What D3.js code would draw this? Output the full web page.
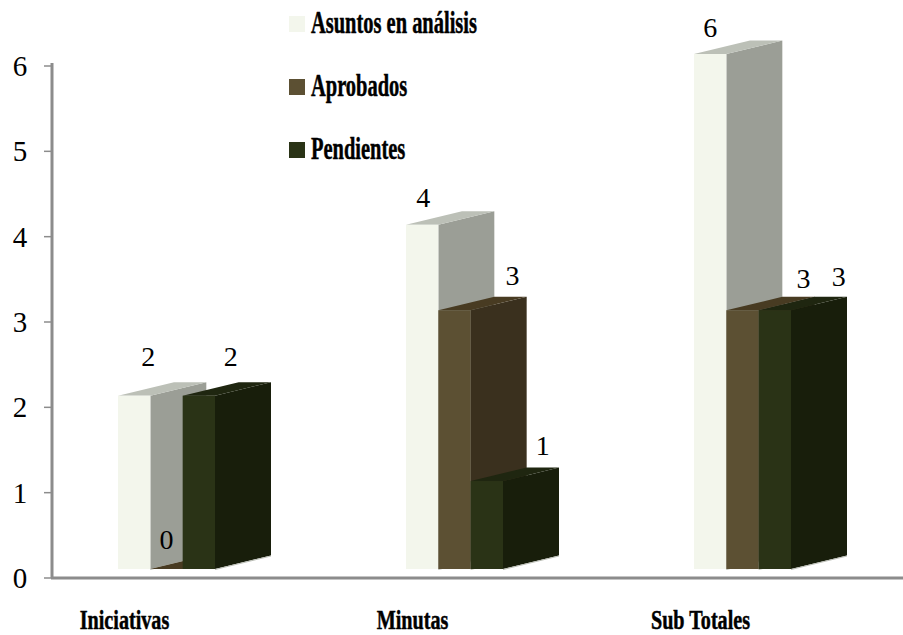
<!DOCTYPE html>
<html>
<head>
<meta charset="utf-8">
<script src="https://cdn.jsdelivr.net/npm/d3@7"></script>
<style>
  html, body { margin: 0; padding: 0; background: #fff; }
  svg { display: block; }
  text { font-family: "Liberation Serif", serif; fill: #000; }
</style>
</head>
<body>
<svg id="chart" width="903" height="635"></svg>
<script>
const categories = ["Iniciativas", "Minutas", "Sub Totales"];
const seriesNames = ["Asuntos en análisis", "Aprobados", "Pendientes"];
const asuntos = [2, 4, 6];
const aprobados = [0, 3, 3];
const pendientes = [2, 1, 3];
const seriesValues = [asuntos, aprobados, pendientes];
const yTicks = [0, 1, 2, 3, 4, 5, 6];

// Shades per series: front, side and top faces of each block
const faces = [
  { front: "#f3f6ec", side: "#9b9e96", top: "#bcc0b7" },
  { front: "#5c5033", side: "#3a301e", top: "#483b22" },
  { front: "#2a3316", side: "#181e0b", top: "#1f2610" }
];

// Value label nudges relative to each block's front face centre: [dx, baseline above top]
const labelNudge = [
  [[14, 30], [0, 20], [32, 30]],
  [[1, 17.5], [58, 25.7], [56, 26]],
  [[0, 17], [61, 22.7], [64, 24.7]]
];

const depthX = 56, depthY = -13.5;
const yBase = 569;
const svg = d3.select("#chart");

const yAxisScale = d3.scaleLinear().domain([0, 6]).range([578, 66]);
const yBlock = d3.scaleLinear().domain([0, 6]).range([566.5, 54]);
const xGroup = d3.scaleBand().domain(categories).range([22.5, 886.5]);
const xSeries = d3.scaleBand().domain(seriesNames).range([-48.5, 48.5]);

const pts = a => a.map(p => p.join(",")).join(" ");

// Blocks, painted left to right so later ones overlap earlier ones
categories.forEach((cat, c) => {
  const g = svg.append("g").attr("class", "group");
  seriesNames.forEach((name, s) => {
    const v = seriesValues[s][c];
    const x0 = xGroup(cat) + xGroup.bandwidth() / 2 + xSeries(name);
    const x1 = x0 + xSeries.bandwidth();
    const yt = v > 0 ? yBlock(v) : yBase;
    g.append("polygon").attr("fill", faces[s].side)
      .attr("points", pts([[x1, yt], [x1 + depthX, yt + depthY], [x1 + depthX, yBase + depthY], [x1, yBase]]));
    g.append("polygon").attr("fill", faces[s].top)
      .attr("points", pts([[x0, yt], [x0 + depthX, yt + depthY], [x1 + depthX, yt + depthY], [x1, yt]]));
    if (v > 0) {
      g.append("rect").attr("fill", faces[s].front)
        .attr("x", x0).attr("y", yt).attr("width", x1 - x0).attr("height", yBase - yt);
      // Pale rim along the block's far lower edge
      g.append("line").attr("stroke", "#b9bcb4").attr("stroke-width", 1)
        .attr("x1", x1).attr("y1", yBase + 0.5)
        .attr("x2", x1 + depthX).attr("y2", yBase + depthY + 0.5);
    }
  });
});

// Value labels sit above everything else
categories.forEach((cat, c) => {
  seriesNames.forEach((name, s) => {
    const v = seriesValues[s][c];
    const cx = xGroup(cat) + xGroup.bandwidth() / 2 + xSeries(name) + xSeries.bandwidth() / 2;
    const top = v > 0 ? yBlock(v) : yBase;
    svg.append("text")
      .attr("x", cx + labelNudge[c][s][0])
      .attr("y", top - labelNudge[c][s][1])
      .attr("text-anchor", "middle")
      .attr("font-size", 28)
      .text(v);
  });
});

// Value axis
const yAxis = svg.append("g");
yAxis.append("line").attr("x1", 52).attr("x2", 52)
  .attr("y1", yAxisScale(6) - 3).attr("y2", yAxisScale(0))
  .attr("stroke", "#8c8c8c").attr("stroke-width", 3);
yAxis.selectAll("line.tick").data(yTicks).join("line").attr("class", "tick")
  .attr("x1", 44).attr("x2", 52)
  .attr("y1", d => yAxisScale(d)).attr("y2", d => yAxisScale(d))
  .attr("stroke", "#8c8c8c").attr("stroke-width", 1.5);
yAxis.selectAll("text").data(yTicks).join("text")
  .attr("x", 20).attr("y", d => yAxisScale(d) + 10)
  .attr("text-anchor", "middle").attr("font-size", 29)
  .text(d => d);

// Category axis
svg.append("line").attr("x1", 51).attr("x2", 903)
  .attr("y1", yAxisScale(0)).attr("y2", yAxisScale(0))
  .attr("stroke", "#8c8c8c").attr("stroke-width", 3);

// Tall, narrow bold lettering for the category and legend text
function condensed(sel, x, y, fontSize, squeeze, anchor) {
  sel.attr("transform", `translate(${x},${y}) scale(${squeeze},1)`)
    .attr("font-size", fontSize).attr("font-weight", "bold")
    .attr("text-anchor", anchor)
    .style("stroke", "#000").style("stroke-width", 0.5);
}

categories.forEach(cat => {
  const cx = xGroup(cat) + xGroup.bandwidth() / 2 - 42;
  svg.append("text").text(cat).call(condensed, cx, 628.5, 28, 0.72, "middle");
});

// Legend
const legendY = d3.scalePoint().domain(seriesNames).range([24, 150]);
seriesNames.forEach((name, s) => {
  svg.append("rect").attr("x", 289).attr("y", legendY(name) - 8)
    .attr("width", 16).attr("height", 16).attr("fill", faces[s].front);
  svg.append("text").text(name).call(condensed, 311, legendY(name) + 9, 31, 0.66, "start");
});
</script>
</body>
</html>
